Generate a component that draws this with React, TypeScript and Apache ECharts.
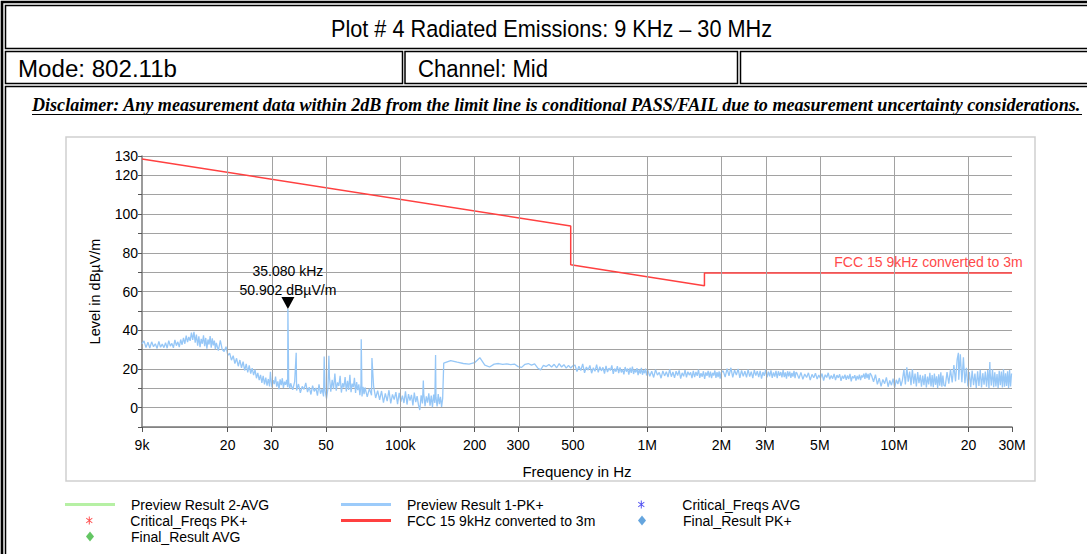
import React, { useEffect, useRef } from 'react';
import * as echarts from 'echarts';

const FONT = '"Liberation Sans", Arial, sans-serif';
const SERIF = '"Liberation Serif", "Times New Roman", serif';

// ---------- axis ticks ----------
const xTickFreqsHz = [9e3, 2e4, 3e4, 5e4, 1e5, 2e5, 3e5, 5e5, 1e6, 2e6, 3e6, 5e6, 1e7, 2e7, 3e7];
const xTickLabels = ['9k', '20', '30', '50', '100k', '200', '300', '500', '1M', '2M', '3M', '5M', '10M', '20', '30M'];
const yTickLabels = [130, 120, 100, 80, 60, 40, 20, 0];

// ---------- limit line (FCC 15 9kHz converted to 3m) ----------
const limitFreqsHz = [9e3, 490e3, 490e3, 1705e3, 1705e3, 30e6];
const limitLevels = [128.5, 93.8, 73.8, 63.0, 69.5, 69.5];

// ---------- Preview Result 1-PK+ (receiver sweep sub-ranges: start, step, levels) ----------
const sweepStartKHz = [9, 18, 36, 72, 150, 510, 1005, 2030, 4040, 8100, 16100];
const sweepStepKHz = [0.17, 0.34, 0.68, 1.5, 10, 9.5, 19, 38, 76, 150, 270];
const sweep1Levels = [33, 34.5, 31, 33.8, 30.8, 34, 31.5, 33, 30.6, 34.2, 31.2, 32.8,
  31, 33.5, 30.7, 34.6, 31.8, 33.2, 30.9, 35, 32, 34, 31.3, 35.2,
  32.5, 36, 33, 37.2, 33.8, 36.5, 34.5, 38.8, 35, 39.2, 33.6, 37.8,
  32, 36.8, 31.2, 35.5, 33, 37.4, 31.8, 36, 30.4, 35.2, 32.6, 37, 31, 35.8, 32.2, 34.6, 30.2];
const sweep2Levels = [33.5, 29.5, 34.8, 30, 29, 31.5, 27,
  28.2, 24.5, 26.8, 22.8, 25.5, 21.4, 24.6,
  20.5, 23.8, 19.2, 22.6, 18.2, 21.8, 17.6, 20.4,
  16.8, 19.6, 15.2, 18, 14.2, 16.9, 12.8, 16.4, 12, 15.5, 11.4, 14.8,
  11, 15.8, 10.4, 14.2, 12.2, 16, 10.8, 13.6, 9.6, 14.6, 11.6, 15.2, 10.2, 13.4, 11.8, 14.4,
  10.6, 13.2, 9.8];
const sweep3Levels = [12.6, 9.2, 13.4,
  8.8, 12.2, 7.6, 11, 9.4, 12.8, 8, 10.6, 6.8, 11.4, 8.4, 10.2, 6.2, 12, 7.2,
  9.6, 5.8, 8.8, 4.6,
  10, 16.2, 8.2, 14.4, 9.6, 17.6, 8.8, 13, 11.2, 16.4, 7.8, 12.6, 10.4, 15.8, 8.4, 13.8, 9.2, 17, 8, 12.4, 10.6, 15.4, 7.6, 13.2, 9,
  12, 6.4, 11.6, 5.8, 10.8, 7];
const sweep4Levels = [10.4, 5.6, 9.8, 6.4, 11, 5, 8.8,
  4, 8.6, 2.6, 7.4, 3.4, 9, 2.2, 6.8, 4.2, 8, 1.8, 7.6, 3, 6.2, 2.4, 8.4, 1.6, 7, 3.6, 6.6, 1.2, 7.8, 2.8, 6, 1.4,
  -1.2, 6.4, 2.2, 7.2, 0.8, 5.8, 2.6, 7.4, 1, 6.2, 0.2, 6.8, 2.4, 5.4, 0.6, 7, 1.8, 5.6, 0.4, 4.8];
const sweep5Levels = [23, 24.3, 23.5, 22.8, 22.5, 23.2, 25.8, 22, 21, 22.5, 22.8, 22.3, 22.6, 22.2, 22.5, 21.2, 20.8, 22.4,
  22.8, 22, 22.6, 20.5, 19.5, 21.8, 21.2, 22.3, 21, 22.4, 20.6, 22.7, 21, 22.2, 20.4, 21.8, 20.5, 21.6];
const sweep6Levels = [22, 18.6, 21.4, 19.2, 22.6, 18, 21, 19.4, 21.8, 17.8, 20.6, 18.8, 22.2, 18.2, 21.2, 19, 20.8, 17.6,
  21.6, 18.4, 20.4, 19.2, 21.8, 17.4, 20.2, 18.6, 21.4, 17.8, 20.8, 18.2, 19.8, 17.2, 21, 18.6, 20.2, 17, 20.6, 18,
  21.2, 17.4, 19.6, 18.2, 20.4, 16.8, 19.8, 17.6, 20.6, 17, 19.4, 17.8, 20.2, 16.6];
const sweep7Levels = [19.4, 16.2, 18.8, 15.6, 19.6, 16.8, 18.2, 15.2, 19, 16.4, 18.6, 15.8, 19.8, 16, 18.4, 15.4, 18.8, 16.6,
  19.2, 15, 18, 16.2, 19.4, 15.6, 18.6, 16.8, 18.2, 15.2, 19, 15.8, 18.4, 16.4, 19.6, 15.4, 17.8, 16, 18.8, 14.8,
  18.2, 16.4, 19, 15.6, 18.6, 15.2, 18, 16.6, 19.2, 15.4, 18.4, 15.8, 18.8, 15, 18.2];
const sweep8Levels = [19, 15.8, 20.2, 16.4, 20.6, 15.6, 19.4, 16.8, 20, 15.4, 19.2, 16.2, 18.8, 15.6, 19.6, 16, 18.6, 15.2,
  19.4, 16.6, 18.8, 15.8, 19, 15, 18.4, 16.4, 19.6, 15.6, 18.6, 16.2, 19.2, 15.4, 18.2, 16, 19, 15.2, 18.8, 16.4,
  18.4, 15.6, 19.4, 15.8, 18.2, 15, 18.8, 16.2, 18.6, 15.4, 18, 16, 19, 15.2, 18.4];
const sweep9Levels = [17.8, 15, 18.2, 14.6, 17.4, 15.6, 18, 14.2, 17.2, 15.4, 17.8, 14.8, 16.8, 15.2, 17.6, 14, 17, 15.6,
  18, 14.6, 16.6, 15, 17.4, 14.2, 16.8, 15.4, 17.2, 13.8, 16.4, 15, 17, 14.4, 16.6, 14.8, 17.4, 13.6, 16.2, 15.2,
  16.8, 14, 16.4, 14.6, 17, 14.2, 16.6, 15.6, 17.6, 14.8, 18, 15.2, 17.4, 14.4, 17.8];
const sweep10Levels = [16.6, 13.4, 17,
  12, 15.2, 11, 14.6, 12.4, 15.6, 10.8, 14, 11.6, 15, 10.4, 14.4, 12.2, 15.4, 11.2, 14.2,
  19.6, 12, 20.8, 13.4, 18.6, 11.6, 19.8, 12.4, 17.6, 11, 18.4, 12.6, 17,
  10.8, 16.6, 11.6, 17.4, 10.4, 16, 12, 18, 11, 16.8, 10.6, 17.6, 11.8, 16.2, 10.2, 17.2, 11.4, 18.2, 10.8, 16.6, 11.6];
const sweep11Levels = [11, 18.4,
  12.4, 19.8, 13, 22, 13.6, 25, 14.4, 27.6, 13.2, 26, 12.6,
  20.6, 11, 18.4, 10.6, 19.2, 11.6, 17.6, 10.2, 18.8, 11.2, 19.6, 10.4, 17.8, 11.8, 18.6, 10.8, 19.4, 10, 18, 11.4,
  19.8, 10.6, 18.2, 11, 17.4, 10.2, 19, 11.6, 18.6, 10.4, 19.8, 10.8, 17.8, 11.2, 18.8, 10.2, 19.4, 11, 17.6];
const sweepLevels = [sweep1Levels, sweep2Levels, sweep3Levels, sweep4Levels, sweep5Levels, sweep6Levels,
  sweep7Levels, sweep8Levels, sweep9Levels, sweep10Levels, sweep11Levels];

// narrow spikes of the PK+ trace
const spikeFreqsKHz = [29.8, 35.08, 37.9, 49.2, 51.4, 69.5, 76.8, 124, 139, 18200, 24400];
const spikeLevels = [18.5, 50.902, 28.4, 26.4, 26.8, 35.3, 25.6, 14, 27.2, 28.3, 23.6];

// marker
const markerFreqKHz = 35.08;
const markerLevel = 50.902;
const limitLabelFreqHz = 5.75e6;

const NAMES = {
  avg: 'Preview Result 2-AVG',
  pk: 'Preview Result 1-PK+',
  critAvg: 'Critical_Freqs AVG',
  critPk: 'Critical_Freqs PK+',
  limit: 'FCC 15 9kHz converted to 3m',
  finalPk: 'Final_Result PK+',
  finalAvg: 'Final_Result AVG',
};

const ASTERISK = 'path://M4.4 0H5.6V10H4.4Z M0.9 2.6L1.5 1.6L9.1 7.4L8.5 8.4Z M8.5 1.6L9.1 2.6L1.5 8.4L0.9 7.4Z';

const lg = Math.log10;

function measure(text: string, font: string): number {
  const ctx = document.createElement('canvas').getContext('2d');
  if (!ctx) return 0;
  ctx.font = font;
  return ctx.measureText(text).width;
}

function legendFor(name: string, left: number, cy: number, icon: string, w: number, h: number, pad: number) {
  return {
    data: [name],
    left,
    top: cy - 8,
    icon,
    itemWidth: w,
    itemHeight: h,
    padding: 0,
    selectedMode: false,
    textStyle: { color: '#000', fontSize: 14, fontFamily: FONT, padding: [0, 0, 0, pad] },
  };
}

function buildOption() {
  const trace: number[][] = [];
  sweepLevels.forEach((levels, s) =>
    levels.forEach((v, i) => trace.push([(sweepStartKHz[s] + sweepStepKHz[s] * i) * 1000, v]))
  );
  spikeFreqsKHz.forEach((f, i) => trace.push([f * 1000, spikeLevels[i]]));
  trace.sort((a, b) => a[0] - b[0]);
  const traceData = trace.map(([f, v]) => [lg(f), v]);
  const limitData = limitFreqsHz.map((f, i) => [lg(f), limitLevels[i]]);
  const tickVals = xTickFreqsHz.map(lg);

  const title = 'Plot # 4 Radiated Emissions: 9 KHz \u2013 30 MHz';
  const mode = 'Mode: 802.11b';
  const channel = 'Channel: Mid';
  const disclaimer =
    'Disclaimer: Any measurement data within 2dB from the limit line is conditional PASS/FAIL due to measurement uncertainty considerations.';
  const titleFont = `23.5px ${FONT}`;
  const rowFont = `24.5px ${FONT}`;
  const discFont = `italic bold 18.5px ${SERIF}`;
  const titleScale = 441 / (measure(title, titleFont) || 441);
  const modeScale = 159 / (measure(mode, rowFont) || 159);
  const channelScale = 130 / (measure(channel, rowFont) || 130);
  const discScale = 1050 / (measure(disclaimer, discFont) || 1050);

  const frame = { fill: 'none', stroke: '#000', lineWidth: 1.5 };
  const graphicElements: any[] = [
    { type: 'rect', silent: true, shape: { x: 2, y: 2, width: 1200, height: 700 }, style: { fill: 'none', stroke: '#000', lineWidth: 2.6 } },
    { type: 'rect', silent: true, shape: { x: 5.5, y: 5.5, width: 1200, height: 43 }, style: frame },
    { type: 'rect', silent: true, shape: { x: 5.5, y: 51.5, width: 397, height: 32 }, style: frame },
    { type: 'rect', silent: true, shape: { x: 405, y: 51.5, width: 332.5, height: 32 }, style: frame },
    { type: 'rect', silent: true, shape: { x: 740.5, y: 51.5, width: 600, height: 32 }, style: frame },
    { type: 'rect', silent: true, shape: { x: 5.5, y: 86.5, width: 1200, height: 700 }, style: frame },
    { type: 'rect', silent: true, shape: { x: 66, y: 137, width: 969, height: 344 }, style: { fill: 'none', stroke: '#cfcfcf', lineWidth: 1.5 } },
    {
      type: 'text', silent: true, x: 551.5, y: 29, scaleX: titleScale,
      style: { text: title, fontSize: 23.5, fontFamily: FONT, fill: '#000', align: 'center', verticalAlign: 'middle' },
    },
    {
      type: 'text', silent: true, x: 18, y: 68.5, scaleX: modeScale,
      style: { text: mode, fontSize: 24.5, fontFamily: FONT, fill: '#000', align: 'left', verticalAlign: 'middle' },
    },
    {
      type: 'text', silent: true, x: 418, y: 68.5, scaleX: channelScale,
      style: { text: channel, fontSize: 24.5, fontFamily: FONT, fill: '#000', align: 'left', verticalAlign: 'middle' },
    },
    {
      type: 'text', silent: true, x: 32, y: 104.5, scaleX: discScale,
      style: { text: disclaimer, fontSize: 18.5, fontStyle: 'italic', fontWeight: 'bold', fontFamily: SERIF, fill: '#000', align: 'left', verticalAlign: 'middle' },
    },
    { type: 'line', silent: true, shape: { x1: 32, y1: 114.5, x2: 1082, y2: 114.5 }, style: { stroke: '#000', lineWidth: 1.2 } },
  ];

  return {
    animation: false,
    backgroundColor: '#fff',
    grid: { left: 142, top: 156, right: 75, bottom: 127, containLabel: false },
    xAxis: {
      type: 'value',
      min: lg(9e3),
      max: lg(3e7),
      name: 'Frequency in Hz',
      nameLocation: 'middle',
      nameGap: 37,
      nameTextStyle: { color: '#000', fontSize: 15, fontFamily: FONT },
      axisLine: { show: true, onZero: false, lineStyle: { color: '#7a7a7a', width: 1.5 } },
      axisTick: { show: true, customValues: tickVals, length: 5, lineStyle: { color: '#555', width: 1 } },
      axisLabel: {
        customValues: tickVals,
        color: '#000',
        fontSize: 14,
        fontFamily: FONT,
        margin: 11,
        formatter: (v: number) => {
          const i = tickVals.findIndex((t) => Math.abs(t - v) < 1e-6);
          return i >= 0 ? xTickLabels[i] : '';
        },
      },
      splitLine: { show: false },
    },
    yAxis: {
      type: 'value',
      min: -10,
      max: 130,
      interval: 10,
      name: 'Level in dB\u00b5V/m',
      nameLocation: 'middle',
      nameGap: 40,
      nameRotate: 90,
      nameTextStyle: { color: '#000', fontSize: 14.5, fontFamily: FONT },
      axisLine: { show: true, lineStyle: { color: '#7a7a7a', width: 1.5 } },
      axisTick: { show: true, length: 4, lineStyle: { color: '#555' } },
      axisLabel: {
        color: '#000',
        fontSize: 14,
        fontFamily: FONT,
        margin: 4,
        formatter: (v: number) => (yTickLabels.includes(v) ? String(v) : ''),
      },
      splitLine: { show: true, lineStyle: { color: '#a2a2a2', width: 1 } },
    },
    legend: [
      legendFor(NAMES.avg, 65, 505.5, 'rect', 50, 3, 11),
      legendFor(NAMES.critPk, 86, 521.5, ASTERISK, 8, 8, 32),
      legendFor(NAMES.finalAvg, 86, 537.5, 'diamond', 8, 10, 32),
      legendFor(NAMES.pk, 341, 505.5, 'rect', 50, 3, 11),
      legendFor(NAMES.limit, 341, 521.5, 'rect', 50, 3, 11),
      legendFor(NAMES.critAvg, 638, 505.5, ASTERISK, 8, 8, 32),
      legendFor(NAMES.finalPk, 638, 521.5, 'diamond', 8, 10, 32),
    ],
    graphic: { elements: graphicElements },
    series: [
      {
        name: NAMES.avg,
        type: 'line',
        data: [],
        showSymbol: false,
        itemStyle: { color: '#b6f0a4' },
        lineStyle: { color: '#b6f0a4', width: 1 },
        markLine: {
          silent: true,
          symbol: ['none', 'none'],
          label: { show: false },
          lineStyle: { color: '#a2a2a2', width: 1, type: 'solid' },
          emphasis: { disabled: true },
          data: tickVals.slice(1).map((v) => ({ xAxis: v })),
        },
      },
      {
        name: NAMES.pk,
        type: 'line',
        data: traceData,
        showSymbol: false,
        symbol: 'none',
        itemStyle: { color: '#9ccbfa' },
        lineStyle: { color: '#96c7f7', width: 1.3 },
        emphasis: { disabled: true },
        markPoint: {
          symbol: 'triangle',
          symbolSize: [13, 12],
          symbolRotate: 180,
          symbolOffset: [0, -6],
          itemStyle: { color: '#000' },
          label: {
            show: true,
            position: 'top',
            distance: -2,
            color: '#000',
            fontSize: 14,
            fontFamily: FONT,
            lineHeight: 19,
            formatter: `${markerFreqKHz.toFixed(3)} kHz\n${markerLevel.toFixed(3)} dB\u00b5V/m`,
          },
          data: [{ coord: [lg(markerFreqKHz * 1000), markerLevel] }],
        },
      },
      {
        name: NAMES.limit,
        type: 'line',
        data: limitData,
        showSymbol: false,
        symbol: 'none',
        itemStyle: { color: '#ff4040' },
        lineStyle: { color: '#ff4040', width: 1.5 },
        emphasis: { disabled: true },
        markPoint: {
          symbol: 'circle',
          symbolSize: 1,
          itemStyle: { color: 'rgba(0,0,0,0)' },
          label: {
            show: true,
            position: [0, -18],
            color: '#ff4a4a',
            fontSize: 14,
            fontFamily: FONT,
            formatter: NAMES.limit,
          },
          data: [{ coord: [lg(limitLabelFreqHz), limitLevels[limitLevels.length - 1]] }],
        },
      },
      { name: NAMES.critPk, type: 'scatter', data: [], symbol: ASTERISK, itemStyle: { color: '#ff2020' } },
      { name: NAMES.critAvg, type: 'scatter', data: [], symbol: ASTERISK, itemStyle: { color: '#2222ee' } },
      { name: NAMES.finalPk, type: 'scatter', data: [], symbol: 'diamond', itemStyle: { color: '#3f8fd6' } },
      { name: NAMES.finalAvg, type: 'scatter', data: [], symbol: 'diamond', itemStyle: { color: '#3cb83c' } },
    ],
  };
}

export default function App() {
  const ref = useRef<HTMLDivElement>(null);
  useEffect(() => {
    const el = ref.current;
    if (!el) return;
    const chart = echarts.init(el, null, { renderer: 'svg' });
    chart.setOption(buildOption() as any);
    return () => chart.dispose();
  }, []);
  return (
    <div
      ref={ref}
      style={{ position: 'absolute', left: 0, top: 0, width: 1087, height: 554, background: '#fff' }}
    />
  );
}
